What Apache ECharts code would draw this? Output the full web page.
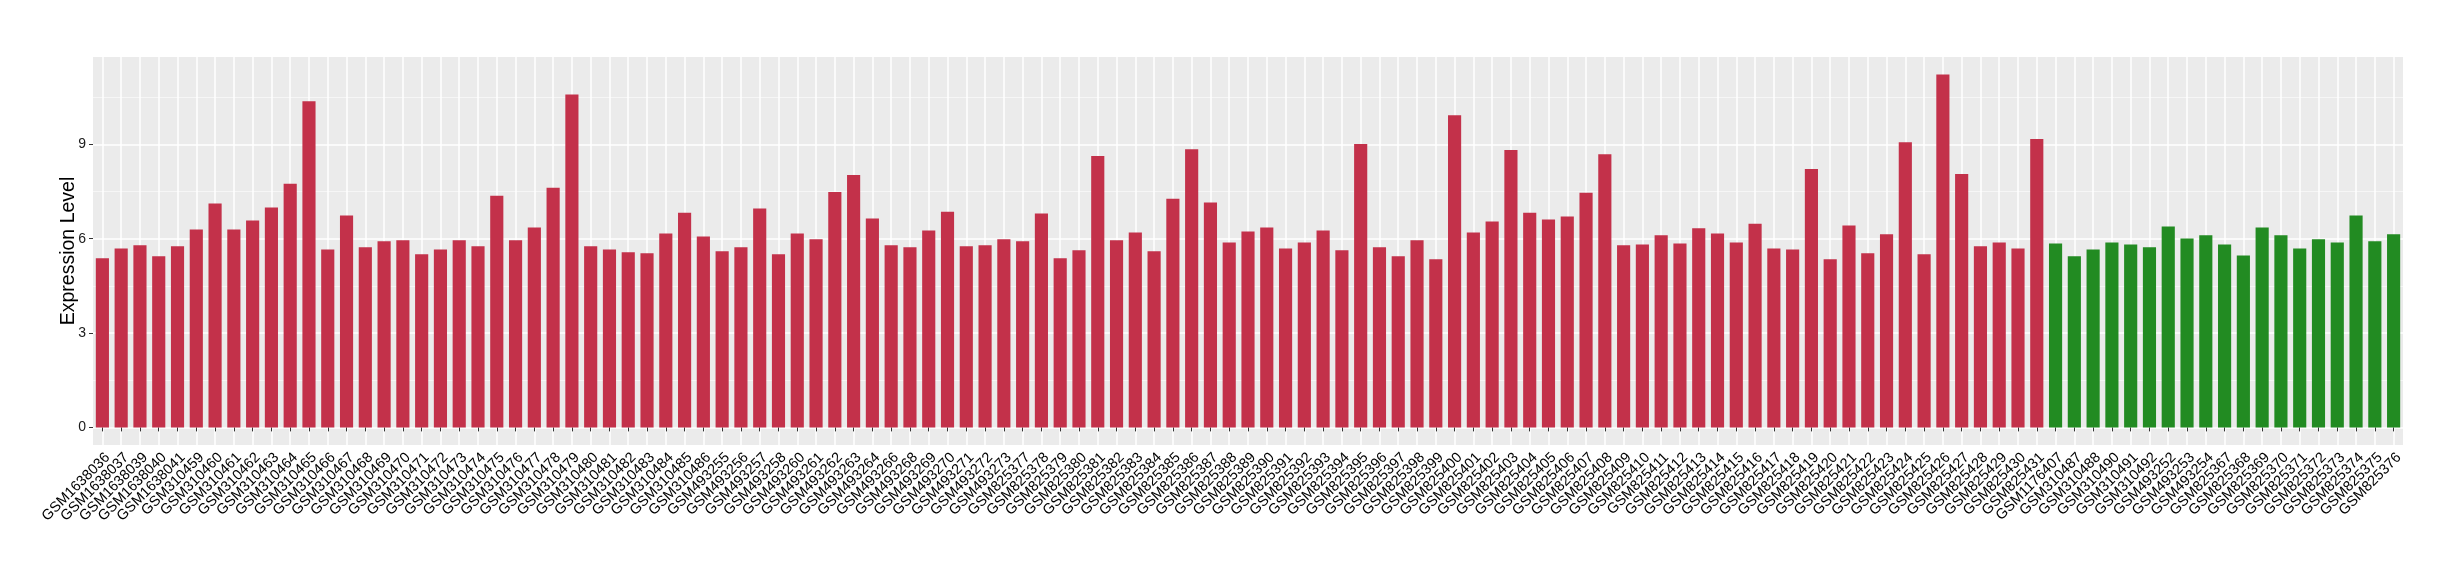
<!DOCTYPE html>
<html>
<head>
<meta charset="utf-8">
<script src="https://cdn.jsdelivr.net/npm/echarts@6/dist/echarts.min.js"></script>
<style>
html,body{margin:0;padding:0;background:#fff;}
#chart{width:2460px;height:580px;}
</style>
</head>
<body>
<div id="chart"></div>
<script>
const redSamples = [
  "GSM1638036","GSM1638037","GSM1638039","GSM1638040","GSM1638041",
  "GSM310459","GSM310460","GSM310461","GSM310462","GSM310463","GSM310464","GSM310465","GSM310466","GSM310467",
  "GSM310468","GSM310469","GSM310470","GSM310471","GSM310472","GSM310473","GSM310474","GSM310475","GSM310476",
  "GSM310477","GSM310478","GSM310479","GSM310480","GSM310481","GSM310482","GSM310483","GSM310484","GSM310485","GSM310486",
  "GSM493255","GSM493256","GSM493257","GSM493258","GSM493260","GSM493261","GSM493262","GSM493263","GSM493264",
  "GSM493266","GSM493268","GSM493269","GSM493270","GSM493271","GSM493272","GSM493273",
  "GSM825377","GSM825378","GSM825379","GSM825380","GSM825381","GSM825382","GSM825383","GSM825384","GSM825385",
  "GSM825386","GSM825387","GSM825388","GSM825389","GSM825390","GSM825391","GSM825392","GSM825393","GSM825394",
  "GSM825395","GSM825396","GSM825397","GSM825398","GSM825399","GSM825400","GSM825401","GSM825402","GSM825403",
  "GSM825404","GSM825405","GSM825406","GSM825407","GSM825408","GSM825409","GSM825410","GSM825411","GSM825412",
  "GSM825413","GSM825414","GSM825415","GSM825416","GSM825417","GSM825418","GSM825419","GSM825420","GSM825421",
  "GSM825422","GSM825423","GSM825424","GSM825425","GSM825426","GSM825427","GSM825428","GSM825429","GSM825430","GSM825431"
];
const redValues = [
  5.38,5.69,5.79,5.44,5.76,
  6.29,7.12,6.29,6.58,6.99,7.75,10.37,5.66,6.74,
  5.73,5.92,5.95,5.51,5.66,5.95,5.76,7.37,5.95,
  6.36,7.62,10.59,5.76,5.66,5.57,5.54,6.17,6.83,6.07,
  5.60,5.73,6.96,5.51,6.17,5.98,7.49,8.03,6.64,
  5.79,5.73,6.26,6.86,5.76,5.79,5.98,
  5.92,6.80,5.38,5.63,8.63,5.95,6.20,5.60,7.27,
  8.85,7.15,5.88,6.23,6.36,5.69,5.88,6.26,5.63,
  9.01,5.73,5.44,5.95,5.35,9.93,6.20,6.55,8.82,
  6.83,6.61,6.71,7.46,8.69,5.79,5.82,6.11,5.85,
  6.33,6.17,5.88,6.48,5.69,5.66,8.22,5.35,6.42,
  5.54,6.14,9.07,5.51,11.22,8.06,5.76,5.88,5.69,9.17
];
const greenSamples = [
  "GSM1176407","GSM310487","GSM310488","GSM310490","GSM310491","GSM310492",
  "GSM493252","GSM493253","GSM493254","GSM825367","GSM825368","GSM825369","GSM825370",
  "GSM825371","GSM825372","GSM825373","GSM825374","GSM825375","GSM825376"
];
const greenValues = [
  5.85,5.44,5.66,5.88,5.82,5.73,
  6.39,6.01,6.11,5.82,5.47,6.36,6.11,
  5.69,5.98,5.88,6.74,5.92,6.14
];
const yTickValues = [0, 3, 6, 9];
const yMinorValues = [1.5, 4.5, 7.5, 10.5];

const redColor = '#C3314A';
const greenColor = '#228B22';
const categories = redSamples.concat(greenSamples);
const barData = redValues.map(v => ({value: v, itemStyle: {color: redColor}}))
  .concat(greenValues.map(v => ({value: v, itemStyle: {color: greenColor}})));

const FONT = '"Liberation Sans", Arial, Helvetica, sans-serif';
const chart = echarts.init(document.getElementById('chart'), null, {renderer: 'canvas'});
chart.setOption({
  animation: false,
  backgroundColor: '#ffffff',
  textStyle: {fontFamily: FONT},
  grid: {left: 93, right: 57, top: 57, bottom: 135, show: true, backgroundColor: '#EBEBEB', borderWidth: 0},
  xAxis: {
    type: 'category',
    data: categories,
    boundaryGap: true,
    axisLine: {show: false},
    axisTick: {show: true, alignWithLabel: true, interval: 0, length: 4, lineStyle: {color: '#333333', width: 1}},
    splitLine: {show: true, alignWithLabel: true, interval: 0, lineStyle: {color: '#ffffff', width: 1.5}},
    axisLabel: {interval: 0, rotate: 45, fontSize: 14.5, color: '#000000', margin: 5, verticalAlign: 'top', fontFamily: FONT}
  },
  yAxis: [{
    type: 'value',
    min: -0.56,
    max: 11.78,
    name: 'Expression Level',
    nameLocation: 'middle',
    nameRotate: 90,
    nameGap: 14,
    nameMoveOverlap: false,
    nameTextStyle: {fontSize: 19.5, color: '#000000', fontFamily: FONT},
    axisLine: {show: false},
    axisTick: {show: true, length: 4, customValues: yTickValues, lineStyle: {color: '#333333', width: 1}},
    axisLabel: {customValues: yTickValues, fontSize: 14, color: '#1a1a1a', margin: 7, fontFamily: FONT},
    splitLine: {show: true, lineStyle: {color: '#ffffff', width: 1.5}}
  }, {
    type: 'value',
    position: 'left',
    min: -0.56,
    max: 11.78,
    axisLine: {show: false},
    axisTick: {show: false, customValues: yMinorValues},
    axisLabel: {show: false, customValues: yMinorValues},
    splitLine: {show: true, lineStyle: {color: '#F6F6F6', width: 1}}
  }],
  series: [{
    type: 'bar',
    yAxisIndex: 0,
    data: barData,
    barWidth: '70%'
  }]
});
</script>
</body>
</html>
